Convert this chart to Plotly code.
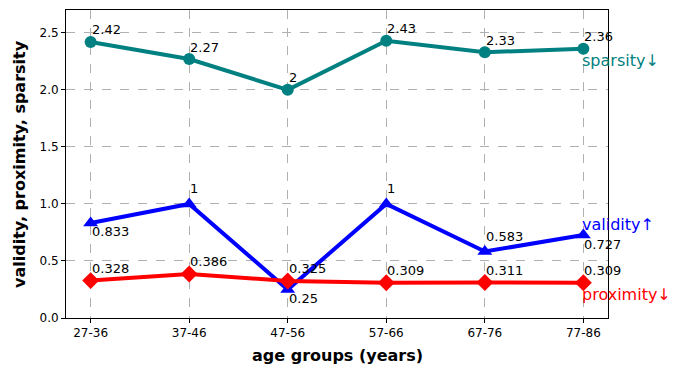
import plotly.graph_objects as go

age_groups = ["27-36", "37-46", "47-56", "57-66", "67-76", "77-86"]
sparsity = [2.42, 2.27, 2, 2.43, 2.33, 2.36]
validity = [0.833, 1, 0.25, 1, 0.583, 0.727]
proximity = [0.328, 0.386, 0.325, 0.309, 0.311, 0.309]

# which validity labels sit under the marker
validity_below = [True, False, True, False, False, True]

FONT = "DejaVu Sans"
series = [
    ("sparsity↓", sparsity, "#008080", "circle", 12, 2.26),
    ("validity↑", validity, "#0000ff", "triangle-up", 13, 0.82),
    ("proximity↓", proximity, "#ff0000", "diamond", 13, 0.21),
]

fig = go.Figure()
xs = list(range(len(age_groups)))
for name, vals, color, symbol, msize, _ in series:
    fig.add_trace(go.Scatter(
        x=xs, y=vals, mode="lines+markers", name=name,
        line=dict(color=color, width=4),
        marker=dict(symbol=symbol, size=msize, color=color),
        cliponaxis=False,
    ))

ann = []
for name, vals, color, symbol, msize, label_y in series:
    is_val = name.startswith("validity")
    for i, v in enumerate(vals):
        if is_val:
            shift = -9 if validity_below[i] else 15
        else:
            shift = 12
        ann.append(dict(
            x=xs[i], y=v, text=f"{v:g}", showarrow=False,
            xanchor="left", yanchor="middle", xshift=-1, yshift=shift,
            font=dict(family=FONT, size=13, color="black"),
        ))
    ann.append(dict(
        x=xs[-1], y=label_y, text=name, showarrow=False,
        xanchor="left", yanchor="middle", xshift=-3,
        font=dict(family=FONT, size=16, color=color),
    ))

# axis titles placed by hand, matplotlib style
ann.append(dict(
    x=0.5, y=0, xref="paper", yref="paper", text="<b>age groups (years)</b>",
    showarrow=False, xanchor="center", yanchor="middle", yshift=-37,
    font=dict(family=FONT, size=16, color="black"),
))
ann.append(dict(
    x=0, y=0.5, xref="paper", yref="paper", text="<b>validity, proximity, sparsity</b>",
    showarrow=False, xanchor="center", yanchor="middle", xshift=-47, textangle=-90,
    font=dict(family=FONT, size=16, color="black"),
))

axis_common = dict(
    showline=True, linecolor="black", linewidth=1, mirror=True,
    ticks="outside", ticklen=4, tickcolor="black",
    showgrid=True, gridcolor="#b0b0b0", griddash="dash", gridwidth=1,
    zeroline=False, tickfont=dict(family=FONT, size=12, color="black"),
    automargin=False,
)

# page body adds 8px offset, margins compensate
fig.update_layout(
    width=685, height=375,
    margin=dict(l=58, r=85, t=2, b=65),
    paper_bgcolor="white", plot_bgcolor="white",
    showlegend=False,
    annotations=ann,
    font=dict(family=FONT, color="black"),
    xaxis=dict(
        axis_common, range=[-0.25, 5.25], tickmode="array",
        tickvals=xs, ticktext=age_groups,
    ),
    yaxis=dict(
        axis_common, range=[0, 2.7], tickvals=[0, 0.5, 1.0, 1.5, 2.0, 2.5],
        tickformat=".1f",
    ),
)

fig.write_html("out.html")
